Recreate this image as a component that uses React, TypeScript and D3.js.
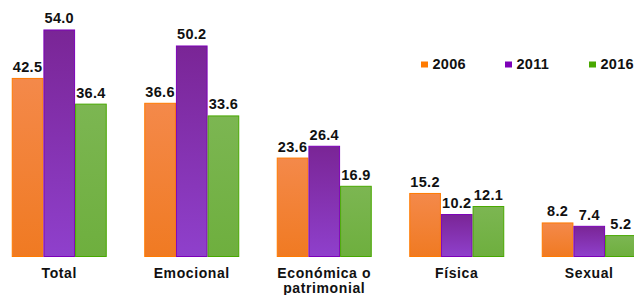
import * as d3 from 'd3';

const categories = ['Total', 'Emocional', 'Económica o patrimonial', 'Física', 'Sexual'];
const categoryLines = [['Total'], ['Emocional'], ['Económica o', 'patrimonial'], ['Física'], ['Sexual']];
const years = ['2006', '2011', '2016'];
const values2006 = [42.5, 36.6, 23.6, 15.2, 8.2];
const values2011 = [54.0, 50.2, 26.4, 10.2, 7.4];
const values2016 = [36.4, 33.6, 16.9, 12.1, 5.2];

const series = [values2006, values2011, values2016];
const fills = [
  { top: '#f4894a', bottom: '#f07a22', stroke: '#ff7a00' },
  { top: '#7a2596', bottom: '#8f40cc', stroke: '#7d00b8' },
  { top: '#7cb652', bottom: '#6eaf3e', stroke: '#48a800' },
];

const W = 634;
const H = 295;
const baseY = 257;
const font = '"Liberation Sans", Arial, sans-serif';

export default function App() {
  const x = d3.scaleBand<string>()
    .domain(categories)
    .range([-7, 655.5])
    .paddingInner(0.283)
    .paddingOuter(0.1415);
  const inner = d3.scaleBand<string>()
    .domain(years)
    .range([0, x.bandwidth()]);
  const y = d3.scaleLinear().domain([0, 60]).range([baseY, baseY - 252.8]);

  const legendX = d3.scalePoint<string>().domain(years).range([421, 589]);

  return (
    <svg
      width={W}
      height={H}
      style={{ position: 'absolute', left: 0, top: 0, background: '#fff' }}
      fontFamily={font}
    >
      <defs>
        {fills.map((f, i) => (
          <linearGradient key={i} id={`g${i}`} x1="0" y1="0" x2="0" y2="1">
            <stop offset="0%" stopColor={f.top} />
            <stop offset="100%" stopColor={f.bottom} />
          </linearGradient>
        ))}
      </defs>

      {categories.map((c, ci) => (
        <g key={c} transform={`translate(${x(c)},0)`}>
          {years.map((yr, si) => {
            const v = series[si][ci];
            const bx = inner(yr)!;
            const bw = inner.bandwidth();
            const top = y(v);
            return (
              <g key={yr}>
                <rect
                  x={bx + 0.5}
                  y={top + 0.5}
                  width={bw - 1}
                  height={baseY - top - 1}
                  fill={`url(#g${si})`}
                  stroke={fills[si].stroke}
                  strokeWidth={1}
                />
                <text
                  x={bx + bw / 2}
                  y={top - 6}
                  textAnchor="middle"
                  fontSize={14.5}
                  fontWeight="bold"
                  letterSpacing={0.3}
                  fill="#111"
                >
                  {v.toFixed(1)}
                </text>
              </g>
            );
          })}
          {categoryLines[ci].map((line, li) => (
            <text
              key={li}
              x={x.bandwidth() / 2}
              y={278 + li * 15}
              textAnchor="middle"
              fontSize={14}
              fontWeight="bold"
              letterSpacing={0.6}
              fill="#111"
            >
              {line}
            </text>
          ))}
        </g>
      ))}

      {years.map((yr, i) => (
        <g key={yr} transform={`translate(${legendX(yr)},0)`}>
          <rect x={0} y={61.5} width={7} height={6} fill={fills[i].stroke} />
          <text x={11.5} y={69} fontSize={14.5} fontWeight="bold" letterSpacing={0.3} fill="#111">
            {yr}
          </text>
        </g>
      ))}
    </svg>
  );
}
